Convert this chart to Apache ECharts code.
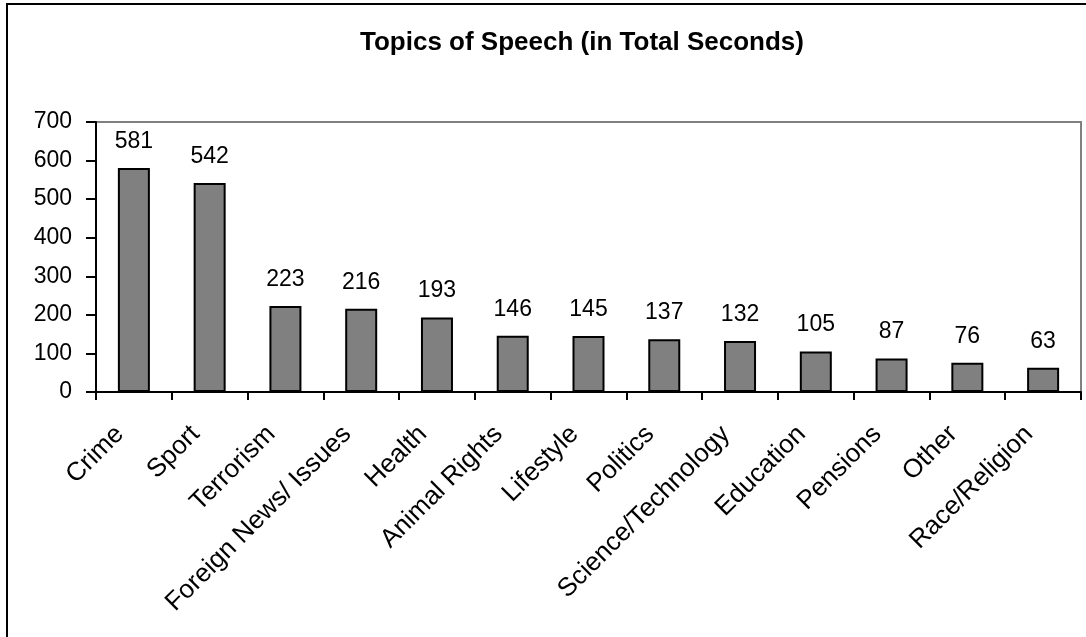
<!DOCTYPE html>
<html>
<head>
<meta charset="utf-8">
<script src="https://cdn.jsdelivr.net/npm/echarts@6/dist/echarts.min.js"></script>
<style>
html,body{margin:0;padding:0;background:#fff;}
#chart{width:1086px;height:637px;}
</style>
</head>
<body>
<div id="chart"></div>
<script>
const titleText = 'Topics of Speech (in Total Seconds)';
const categories = ['Crime','Sport','Terrorism','Foreign News/ Issues','Health','Animal Rights','Lifestyle','Politics','Science/Technology','Education','Pensions','Other','Race/Religion'];
const seconds = [581,542,223,216,193,146,145,137,132,105,87,76,63];
const yTicks = {min: 0, max: 700, interval: 100};

const FONT = '"Liberation Sans", Arial, sans-serif';
const chart = echarts.init(document.getElementById('chart'));
chart.setOption({
  backgroundColor: '#fff',
  animation: false,
  graphic: [{
    type: 'rect',
    shape: {x: 7, y: 4, width: 1200, height: 800},
    style: {fill: 'none', stroke: '#000', lineWidth: 2},
    z: 100
  }],
  title: {
    text: titleText,
    left: 577,
    top: 25,
    textAlign: 'center',
    textStyle: {fontFamily: FONT, fontSize: 26, fontWeight: 'bold', color: '#000'}
  },
  grid: {
    left: 96, right: 5, top: 122, bottom: 245,
    show: true, borderColor: '#808080', borderWidth: 2, backgroundColor: 'transparent'
  },
  xAxis: {
    type: 'category',
    data: categories,
    boundaryGap: true,
    axisLine: {lineStyle: {color: '#000', width: 2}},
    axisTick: {show: true, length: 8, lineStyle: {color: '#000', width: 2}},
    axisLabel: {
      interval: 0, rotate: 45, margin: 24, padding: [0, 20, 0, 0],
      fontFamily: FONT, fontSize: 26, color: '#000'
    }
  },
  yAxis: {
    type: 'value',
    min: yTicks.min, max: yTicks.max, interval: yTicks.interval,
    splitLine: {show: false},
    axisLine: {show: true, lineStyle: {color: '#000', width: 2}},
    axisTick: {show: true, length: 10, lineStyle: {color: '#000', width: 2}},
    axisLabel: {margin: 24, fontFamily: FONT, fontSize: 23, color: '#000'}
  },
  series: [{
    type: 'bar',
    data: seconds,
    barWidth: 32,
    itemStyle: {color: '#808080', borderColor: '#000', borderWidth: 2},
    label: {
      show: true, position: 'top', distance: 15,
      fontFamily: FONT, fontSize: 23, color: '#000'
    }
  }]
});
</script>
</body>
</html>
